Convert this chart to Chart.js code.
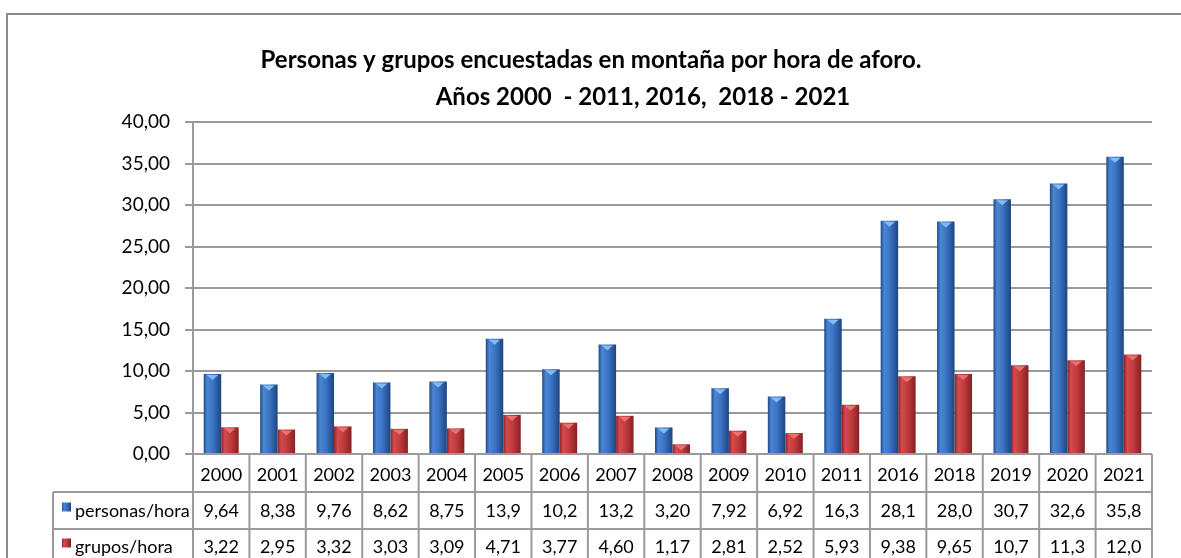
<!DOCTYPE html>
<html>
<head>
<meta charset="utf-8">
<script src="https://cdn.jsdelivr.net/npm/chart.js@4.4.1/dist/chart.umd.min.js"></script>
<style>
  html, body { margin: 0; padding: 0; background: #fff; }
  #wrap { width: 1181px; height: 558px; position: relative; }
</style>
</head>
<body>
<div id="wrap"><canvas id="aforo-chart" width="1181" height="558"></canvas></div>
<script>
const years = ['2000', '2001', '2002', '2003', '2004', '2005', '2006', '2007', '2008', '2009', '2010', '2011', '2016', '2018', '2019', '2020', '2021'];
const personasHora = [9.64, 8.38, 9.76, 8.62, 8.75, 13.9, 10.2, 13.2, 3.20, 7.92, 6.92, 16.3, 28.1, 28.0, 30.7, 32.6, 35.8];
const gruposHora = [3.22, 2.95, 3.32, 3.03, 3.09, 4.71, 3.77, 4.60, 1.17, 2.81, 2.52, 5.93, 9.38, 9.65, 10.7, 11.3, 12.0];
const titleLines = ['Personas y grupos encuestadas en montaña por hora de aforo.', 'Años 2000  - 2011, 2016,  2018 - 2021'];

const FONT = 'Lato, "Open Sans", sans-serif';
const CAT_PCT = 0.62;
const lineColor = '#9a9a9a';

// excel style: 3 cifras y coma decimal
function fmt(v) {
  return v.toPrecision(3).replace('.', ',');
}

function barGradient(context, stops, solid) {
  var chart = context.chart;
  if (!chart.chartArea || context.dataIndex === undefined) return solid;
  var x = chart.scales.x;
  var catW = (x.right - x.left) / years.length;
  var w = catW * CAT_PCT / 2;
  var center = x.getPixelForValue(context.dataIndex);
  var left = center - w + context.datasetIndex * w;
  var g = chart.ctx.createLinearGradient(left, 0, left + w, 0);
  stops.forEach(function (s) { g.addColorStop(s[0], s[1]); });
  return g;
}

const blueStops = [[0, '#1f4a88'], [0.2, '#4a86d4'], [0.55, '#3a72c2'], [1, '#1d4580']];
const redStops = [[0, '#8a2224'], [0.2, '#d44b4c'], [0.55, '#c03a3c'], [1, '#862022']];

// titulo en dos lineas
const titlePlugin = {
  id: 'titulo',
  afterDraw: function (chart) {
    var ctx = chart.ctx;
    ctx.save();
    ctx.fillStyle = '#000';
    ctx.font = 'bold 24px ' + FONT;
    ctx.textAlign = 'center';
    ctx.textBaseline = 'middle';
    ctx.fillText(titleLines[0], 591, 60);
    ctx.fillText(titleLines[1], 643, 97);
    ctx.restore();
  }
};

// marco exterior
const framePlugin = {
  id: 'marco',
  beforeDraw: function (chart) {
    var ctx = chart.ctx;
    ctx.save();
    ctx.strokeStyle = '#8c8c8c';
    ctx.lineWidth = 2;
    ctx.strokeRect(7, 14, 1300, 700);
    ctx.restore();
  }
};

// brillo arriba de cada barra
const capPlugin = {
  id: 'tapas',
  afterDatasetsDraw: function (chart) {
    var ctx = chart.ctx;
    var colors = ['rgba(140,195,245,0.9)', 'rgba(235,120,120,0.9)'];
    ctx.save();
    chart.data.datasets.forEach(function (ds, di) {
      chart.getDatasetMeta(di).data.forEach(function (bar) {
        var p = bar.getProps(['x', 'y', 'width'], true);
        ctx.fillStyle = colors[di];
        ctx.beginPath();
        ctx.moveTo(p.x - p.width / 2 + 3, p.y + 1);
        ctx.lineTo(p.x + p.width / 2 - 3, p.y + 1);
        ctx.lineTo(p.x, p.y + 6);
        ctx.closePath();
        ctx.fill();
      });
    });
    ctx.restore();
  }
};

// tabla de datos bajo el eje
const tablePlugin = {
  id: 'tabla',
  afterDraw: function (chart) {
    var ctx = chart.ctx;
    var x = chart.scales.x;
    var area = chart.chartArea;
    var catW = (x.right - x.left) / years.length;
    var top = area.bottom;
    var rowH = 37;
    var r1 = top + 38, r2 = r1 + rowH, r3 = r2 + rowH;
    var legendLeft = 53;

    ctx.save();
    ctx.strokeStyle = lineColor;
    ctx.lineWidth = 2;
    ctx.beginPath();
    ctx.moveTo(legendLeft, r1); ctx.lineTo(x.right, r1);
    ctx.moveTo(legendLeft, r2); ctx.lineTo(x.right, r2);
    ctx.moveTo(legendLeft, r1); ctx.lineTo(legendLeft, r3);
    for (var i = 0; i <= years.length; i++) {
      var bx = x.left + i * catW;
      ctx.moveTo(bx, top); ctx.lineTo(bx, r3);
    }
    ctx.stroke();

    var rows = [
      { y: r1 + rowH / 2 + 1, data: personasHora, stops: blueStops, label: chart.data.datasets[0].label },
      { y: r2 + rowH / 2, data: gruposHora, stops: redStops, label: chart.data.datasets[1].label }
    ];
    ctx.font = '18px ' + FONT;
    ctx.textBaseline = 'middle';
    rows.forEach(function (row) {
      var g = ctx.createLinearGradient(62, 0, 71, 0);
      row.stops.forEach(function (s) { g.addColorStop(s[0], s[1]); });
      ctx.fillStyle = g;
      ctx.fillRect(62, row.y - 9, 9, 9);
      ctx.fillStyle = '#000';
      ctx.textAlign = 'left';
      ctx.fillText(row.label, 75, row.y);
      ctx.textAlign = 'center';
      row.data.forEach(function (v, i) {
        ctx.fillText(fmt(v), x.getPixelForValue(i), row.y);
      });
    });
    ctx.restore();
  }
};

var chartdata = {
  labels: years,
  datasets: [
    {
      label: 'personas/hora',
      data: personasHora,
      backgroundColor: function (c) { return barGradient(c, blueStops, '#3a72c2'); }
    },
    {
      label: 'grupos/hora',
      data: gruposHora,
      backgroundColor: function (c) { return barGradient(c, redStops, '#c03a3c'); }
    }
  ]
};

var grafico = new Chart(document.getElementById('aforo-chart'), {
  type: 'bar',
  data: chartdata,
  options: {
    responsive: false,
    animation: false,
    devicePixelRatio: 1,
    layout: { padding: { top: 122, left: 0, right: 29, bottom: 0 } },
    datasets: {
      bar: { barPercentage: 1.0, categoryPercentage: CAT_PCT }
    },
    plugins: {
      legend: { display: false },
      title: { display: false },
      tooltip: { enabled: false }
    },
    scales: {
      x: {
        grid: { display: false, drawTicks: false },
        border: { display: false },
        ticks: { color: '#000', font: { family: FONT, size: 18 }, padding: 10, maxRotation: 0 },
        afterFit: function (s) { s.height = 104; }
      },
      y: {
        min: 0,
        max: 40,
        grid: { color: lineColor, lineWidth: 2, tickLength: 8 },
        border: { color: lineColor, width: 2 },
        ticks: {
          stepSize: 5,
          padding: 15,
          color: '#000',
          font: { family: FONT, size: 19 },
          callback: function (value) { return value.toFixed(2).replace('.', ','); }
        },
        afterFit: function (s) { s.width = 193; }
      }
    }
  },
  plugins: [framePlugin, capPlugin, tablePlugin, titlePlugin]
});
</script>
</body>
</html>
